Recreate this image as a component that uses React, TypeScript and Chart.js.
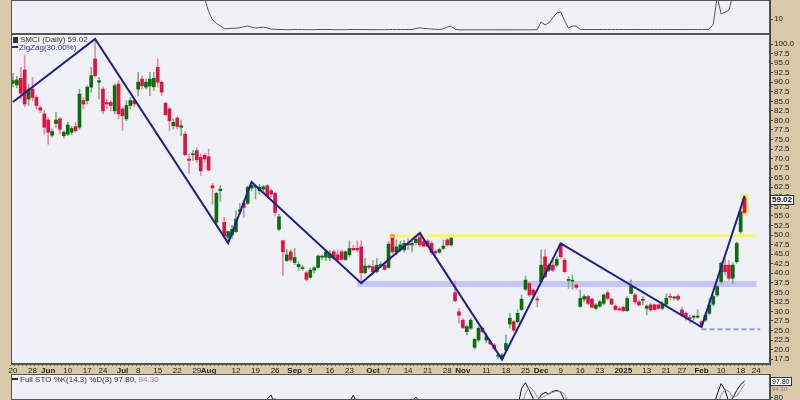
import React, { useEffect, useRef } from "react";
import { Chart, registerables } from "chart.js";

Chart.register(...registerables);

// ---------------- data ----------------
const N = 194; // trading-day slots on the date axis
const categories = Array.from({ length: N }, (_, i) => String(i));

// [slot, text, isMonth]
const dateTicks: [number, string, boolean][] = [
  [0, "20", false], [5, "28", false], [9, "Jun", true], [14, "10", false], [19, "17", false], [23, "24", false],
  [28, "Jul", true], [32, "8", false], [37, "15", false], [42, "22", false], [47, "29", false], [50, "Aug", true],
  [57, "12", false], [62, "19", false], [67, "26", false], [72, "Sep", true], [76, "9", false], [81, "16", false],
  [86, "23", false], [92, "Oct", true], [96, "7", false], [101, "14", false], [106, "21", false], [111, "28", false],
  [115, "Nov", true], [121, "11", false], [126, "18", false], [131, "25", false], [135, "Dec", true], [140, "9", false],
  [145, "16", false], [150, "23", false], [156, "2025", true], [162, "13", false], [167, "21", false], [171, "27", false],
  [176, "Feb", true], [181, "10", false], [186, "18", false], [190, "24", false],
];

// daily candles [open, high, low, close]
const candles: [number, number, number, number][] = [
  [89.7, 92.3, 88.8, 90.4], [89.3, 91.5, 88.5, 90.6], [91.0, 93.9, 85.6, 87.1], [93.2, 97.0, 83.6, 84.3],
  [85.6, 89.5, 83.9, 88.2], [88.2, 91.3, 85.2, 86.0], [86.0, 86.5, 83.0, 83.9], [83.3, 83.8, 82.0, 82.7],
  [81.7, 82.6, 76.4, 78.2], [80.1, 80.8, 73.8, 76.9], [76.1, 77.8, 75.6, 77.1], [79.2, 82.1, 78.2, 80.1],
  [80.4, 80.8, 76.4, 77.7], [76.0, 77.3, 75.4, 76.9], [76.4, 79.5, 76.0, 78.8], [76.9, 78.5, 76.2, 77.9],
  [78.4, 79.5, 76.9, 77.3], [78.2, 88.2, 77.7, 86.9], [85.2, 86.0, 83.0, 84.3], [85.2, 89.1, 84.3, 88.7],
  [88.7, 93.9, 87.4, 91.7], [96.1, 101.3, 91.3, 91.7], [90.0, 91.3, 85.6, 90.4], [88.2, 88.7, 81.7, 82.5],
  [84.7, 85.6, 83.0, 84.3], [84.7, 85.2, 82.5, 83.9], [82.5, 89.5, 81.7, 89.1], [89.5, 90.4, 80.4, 81.7],
  [83.0, 83.4, 77.3, 81.2], [80.4, 85.2, 79.9, 83.9], [83.9, 86.0, 83.0, 85.2], [85.2, 86.0, 83.5, 84.3],
  [88.2, 92.6, 86.5, 90.0], [90.8, 91.7, 88.2, 89.1], [88.7, 90.8, 88.2, 90.0], [89.0, 92.6, 86.5, 90.8],
  [88.8, 92.6, 87.8, 91.0], [93.9, 96.1, 88.7, 90.0], [90.0, 90.4, 86.5, 87.4], [84.5, 84.7, 81.2, 81.5],
  [83.0, 83.4, 77.3, 79.9], [78.6, 80.4, 77.7, 79.5], [80.6, 81.0, 77.7, 78.4], [78.2, 80.1, 76.0, 78.6],
  [76.4, 77.1, 70.8, 71.0], [69.9, 71.2, 66.1, 69.5], [71.0, 72.1, 69.5, 71.2], [72.1, 72.8, 69.0, 69.7],
  [70.3, 71.2, 65.5, 66.8], [70.9, 71.4, 69.0, 69.9], [70.5, 72.5, 66.7, 67.0], [62.9, 63.5, 58.1, 62.3],
  [53.3, 61.2, 52.9, 60.9], [61.6, 63.0, 58.8, 62.0], [53.3, 54.6, 49.2, 49.8], [49.4, 51.1, 47.9, 50.9],
  [50.0, 52.5, 49.0, 51.5], [50.9, 56.3, 50.7, 54.2], [56.2, 58.3, 55.5, 56.6], [58.3, 59.0, 54.6, 57.2],
  [58.3, 62.9, 57.9, 62.5], [62.3, 63.9, 61.5, 63.0], [62.5, 63.0, 59.4, 62.6], [61.6, 63.3, 60.7, 62.5],
  [62.0, 63.0, 61.0, 62.6], [62.9, 63.3, 59.9, 60.3], [61.6, 62.0, 59.9, 60.7], [60.9, 61.2, 55.0, 55.9],
  [51.5, 55.5, 51.1, 54.8], [48.5, 48.7, 39.3, 45.6], [43.3, 46.2, 43.0, 44.8], [45.6, 46.1, 43.0, 43.5],
  [42.8, 46.5, 42.2, 44.1], [41.7, 43.0, 40.8, 42.3], [41.2, 42.1, 40.7, 41.4], [40.1, 40.4, 38.0, 38.4],
  [38.9, 41.3, 38.7, 40.8], [40.8, 41.7, 40.0, 41.4], [41.5, 44.8, 41.3, 44.5], [44.2, 44.8, 43.5, 44.4],
  [44.2, 46.1, 43.3, 45.6], [44.0, 46.0, 43.3, 45.0], [45.6, 46.1, 43.5, 43.9], [44.8, 46.0, 43.0, 43.5],
  [45.6, 46.1, 43.3, 43.6], [43.6, 45.9, 43.3, 45.6], [44.8, 48.5, 44.3, 46.5], [46.5, 47.4, 45.9, 46.1],
  [46.5, 48.5, 45.6, 46.1], [46.9, 48.5, 37.4, 40.1], [40.1, 43.9, 39.8, 41.9], [41.6, 42.1, 41.2, 41.8],
  [41.7, 43.4, 40.0, 40.4], [40.4, 43.9, 40.0, 42.1], [42.0, 43.0, 41.5, 42.2], [42.1, 43.0, 40.8, 41.0],
  [41.5, 48.3, 41.3, 47.6], [49.6, 50.0, 45.2, 45.6], [45.6, 48.7, 44.8, 46.9], [46.1, 48.3, 45.6, 47.4],
  [46.1, 48.6, 45.5, 47.8], [47.8, 49.1, 46.1, 47.4], [47.4, 48.7, 45.6, 47.8], [48.0, 49.6, 47.4, 48.9],
  [50.0, 50.6, 46.9, 47.4], [48.3, 48.7, 46.8, 47.1], [48.4, 48.9, 46.9, 47.0], [47.8, 48.3, 44.8, 45.4],
  [45.7, 46.1, 44.8, 45.3], [45.5, 46.6, 45.2, 46.2], [46.5, 48.7, 46.2, 47.1], [48.7, 49.1, 47.0, 47.4],
  [47.4, 49.4, 47.1, 49.1], [34.9, 38.0, 32.5, 32.8], [29.9, 30.8, 26.9, 29.0], [27.7, 28.2, 25.6, 25.7],
  [24.7, 26.4, 23.8, 26.0], [25.6, 28.2, 25.3, 27.7], [20.6, 22.9, 20.1, 22.7], [22.5, 26.0, 22.1, 25.6],
  [25.6, 26.0, 24.3, 24.7], [22.5, 24.3, 21.8, 23.4], [22.1, 22.5, 21.2, 21.5], [21.2, 21.6, 19.9, 20.3],
  [18.3, 19.0, 17.7, 18.5], [17.7, 19.0, 17.3, 18.6], [19.9, 23.8, 19.7, 21.6], [26.7, 29.5, 25.6, 28.2],
  [27.3, 27.7, 24.7, 25.1], [27.3, 30.4, 27.0, 29.5], [30.5, 34.3, 30.2, 33.2], [35.8, 39.3, 35.4, 38.2],
  [37.3, 37.8, 33.9, 34.3], [35.6, 36.0, 33.9, 34.3], [33.2, 33.9, 31.2, 33.0], [37.8, 46.1, 37.5, 42.1],
  [44.3, 46.1, 38.7, 39.1], [40.8, 42.5, 40.4, 42.1], [42.1, 43.4, 40.4, 40.8], [42.1, 44.3, 41.7, 43.6],
  [47.6, 47.8, 43.9, 44.3], [43.4, 43.9, 40.0, 40.4], [38.1, 39.1, 36.0, 38.3], [37.9, 39.5, 35.8, 38.0],
  [36.9, 37.3, 35.8, 36.3], [31.3, 35.6, 31.1, 33.4], [33.2, 34.5, 32.5, 33.9], [33.9, 34.3, 31.7, 32.1],
  [33.2, 33.4, 30.8, 31.1], [30.8, 32.1, 30.4, 31.7], [31.4, 32.9, 31.0, 32.5], [32.1, 34.6, 31.7, 34.3],
  [34.9, 35.4, 33.0, 33.4], [33.2, 33.4, 31.7, 31.9], [31.4, 31.7, 30.2, 30.5], [30.7, 31.2, 30.2, 30.4],
  [31.1, 31.4, 29.9, 30.2], [30.2, 33.9, 29.9, 33.4], [34.7, 38.2, 34.6, 36.6], [34.3, 34.7, 31.9, 32.5],
  [32.5, 33.0, 31.4, 31.7], [32.9, 33.9, 31.7, 33.0], [30.8, 31.7, 29.1, 31.4], [31.7, 32.1, 30.0, 30.4],
  [31.7, 32.0, 30.3, 30.5], [31.7, 32.0, 30.5, 30.8], [30.8, 32.6, 30.4, 31.9], [31.9, 34.6, 31.7, 33.4],
  [33.9, 34.7, 33.0, 33.7], [33.5, 34.0, 33.0, 33.7], [34.0, 34.6, 32.8, 33.2], [30.4, 31.1, 28.6, 29.1],
  [29.5, 29.9, 27.7, 28.4], [28.3, 29.0, 26.9, 28.1], [28.5, 28.9, 27.7, 28.6], [28.5, 30.5, 28.2, 28.7],
  [27.3, 27.5, 25.8, 26.4], [27.7, 29.7, 27.3, 29.0], [29.5, 33.4, 29.1, 31.7], [31.9, 34.3, 31.4, 33.9],
  [34.3, 36.9, 33.9, 36.5], [37.8, 43.0, 37.3, 42.6], [42.1, 43.9, 39.5, 40.4], [42.1, 43.4, 38.2, 38.7],
  [38.7, 42.8, 37.2, 42.1], [43.0, 48.2, 42.6, 47.8], [50.9, 56.5, 50.4, 56.1], [59.7, 60.3, 55.5, 55.9],
];
const lastClose = "59.02";

// ZigZag(30%) pivots [slot, price]
const zigzagPivots: [number, number][] = [
  [0, 84.8], [21, 101.3], [55, 47.9], [61, 63.9], [89, 37.4], [104, 50.5],
  [125, 17.4], [140, 47.8], [176, 25.9], [187, 60.2],
];

// horizontal annotation lines [fromSlot, toSlot, price]
const yellowLine: [number, number, number] = [96, 190, 49.8];
const blueBand: [number, number, number] = [88, 190, 37.2];
const dashedLine: [number, number, number] = [176, 191, 25.3];

// highlight marks [slot, low, high]
const lastHighlight: [number, number, number] = [187, 55.2, 60.7];
const touchMarks: [number, number, number][] = [[97, 49.3, 50.2], [104, 49.5, 50.5]];

// upper indicator panel (values from slot 48)
const topStart = 48;
const topIndicator: number[] = [
  30, 24, 15, 9.5, 7, 5.5, 3.6, 3.6, 3.8, 3.9, 4.2, 4.8, 5.3, 4.6, 4.0, 4.3, 4.5, 4.1, 3.3, 3.1,
  3.0, 3.0, 2.9, 2.9, 3.0, 3.0, 3.0, 2.9, 2.9, 2.9, 3.0, 3.0, 3.0, 3.0, 2.9, 2.9, 2.9, 2.9, 3.0, 3.0,
  3.0, 3.0, 3.0, 2.9, 2.9, 2.9, 2.9, 2.9, 3.0, 3.0, 3.0, 3.0, 3.0, 3.0, 3.0,
  3.6, 4.2, 3.7, 3.6, 3.3, 3.1, 3.0, 3.5, 4.6, 5.3, 3.2,
  2.8, 2.8, 2.8, 2.8, 2.8, 2.8, 2.8, 2.8, 2.8, 2.8, 2.8, 2.8, 2.8, 2.8, 2.8, 2.8, 2.8, 2.8, 2.8, 2.8,
  3.0, 8.0, 6.0, 7.5, 11.0, 14.0, 14.7, 9.0, 4.0, 5.3, 5.3, 3.1,
  3.0, 3.0, 3.0, 3.0, 3.0, 3.0, 3.0, 3.0, 3.0, 3.0, 3.0, 3.0, 3.0, 3.0, 3.0, 3.0,
  3.0, 3.0, 3.0, 3.0, 3.0, 3.0, 3.0, 3.0, 3.0, 3.0, 3.0, 3.0, 3.0, 3.0, 3.0, 3.0,
  3.3, 6.5, 25, 13.4, 14.5, 16, 26, 32, 38, 42,
];

// Full STO %K / %D (only the visible upper part of the panel) [slot, value]
const stoK: [number, number][] = [
  [63, 60], [64, 72], [65, 79], [66, 83], [67, 72], [68, 55],
  [85, 62], [86, 76], [87, 83], [88, 74], [89, 45],
  [101, 70], [102, 77], [103, 81], [104, 76], [105, 68],
  [128, 55], [129, 70], [130, 90], [131, 96], [132, 88], [133, 79], [134, 77], [135, 83], [136, 86],
  [137, 84], [138, 87], [139, 88], [140, 86], [141, 77], [142, 62],
  [178, 55], [179, 70], [180, 84], [181, 95], [182, 88], [183, 76], [184, 80], [185, 88], [186, 94], [187, 97.8],
];
const stoD: [number, number][] = [
  [64, 62], [65, 70], [66, 78], [67, 80], [68, 73], [69, 60],
  [86, 68], [87, 76], [88, 79], [89, 70], [90, 55],
  [102, 70], [103, 76], [104, 78], [105, 74], [106, 66],
  [129, 58], [130, 72], [131, 85], [132, 92], [133, 88], [134, 81], [135, 80], [136, 82], [137, 85],
  [138, 86], [139, 87], [140, 87], [141, 84], [142, 75], [143, 62],
  [179, 60], [180, 70], [181, 83], [182, 89], [183, 87], [184, 81], [185, 82], [186, 88], [187, 94.3],
];

const priceTicks = Array.from({ length: 34 }, (_, k) => 17.5 + 2.5 * k);

// ---------------- styling ----------------
const FONT = "'Liberation Sans', Arial, sans-serif";
const TAN = "#d9c9a9";
const PLOT_BG = "#f0f0f7";
const UP = "#0d6b0d";
const DOWN = "#dc1443";
const UP_WICK = "#7fb07f";
const DOWN_WICK = "#e98ca2";

function sparse(points: [number, number][]) {
  const a: (number | null)[] = new Array(N).fill(null);
  points.forEach(([i, v]) => (a[i] = v));
  return a;
}
function hline(l: [number, number, number]) {
  return sparse([[l[0], l[2]], [l[1], l[2]]]);
}

const panelPlugin = {
  id: "panelBg",
  beforeDraw(chart: any) {
    const { ctx, chartArea: a } = chart;
    ctx.save();
    ctx.fillStyle = PLOT_BG;
    ctx.fillRect(a.left, a.top, a.right - a.left, a.bottom - a.top);
    ctx.restore();
  },
  afterDraw(chart: any) {
    const { ctx, chartArea: a } = chart;
    ctx.save();
    ctx.strokeStyle = "#555";
    ctx.lineWidth = 1;
    ctx.strokeRect(a.left + 0.5, a.top + 0.5, a.right - a.left - 1, a.bottom - a.top - 1);
    ctx.restore();
  },
};

const tickText: Record<number, string> = {};
const monthSet = new Set<number>();
dateTicks.forEach(([i, t, m]) => {
  tickText[i] = t;
  if (m) monthSet.add(i);
});

function rightAxis(min: number, max: number, values: number[], fmt: (v: number) => string) {
  return {
    position: "right",
    min,
    max,
    afterFit: (s: any) => {
      s.width = 30;
      s.paddingTop = 0;
      s.paddingBottom = 0;
    },
    afterBuildTicks: (s: any) => {
      s.ticks = values.map((v) => ({ value: v }));
    },
    ticks: {
      autoSkip: false,
      callback: (v: any) => fmt(Number(v)),
      font: { family: FONT, size: 8 },
      color: "#222",
      padding: 1,
    },
    grid: { drawOnChartArea: false, drawTicks: true, tickLength: 3, color: "#444" },
    border: { display: true, color: "#444" },
  };
}

function hiddenX() {
  return { type: "category", offset: true, display: false };
}

export default function App() {
  const topRef = useRef<HTMLCanvasElement>(null);
  const mainRef = useRef<HTMLCanvasElement>(null);
  const botRef = useRef<HTMLCanvasElement>(null);

  useEffect(() => {
    const base = {
      responsive: false,
      animation: false,
      devicePixelRatio: 1,
      plugins: { legend: { display: false }, tooltip: { enabled: false } },
    };

    // ---- main price panel
    const wicks = candles.map(([o, h, l, c]) => [l, h]);
    const bodies = candles.map(([o, h, l, c]) => [Math.min(o, c), Math.max(o, c)]);
    const up = candles.map(([o, h, l, c]) => c >= o);
    const highlightData: any[] = new Array(N).fill(null);
    highlightData[lastHighlight[0]] = [lastHighlight[1], lastHighlight[2]];
    const touchData: any[] = new Array(N).fill(null);
    touchMarks.forEach(([i, lo, hi]) => (touchData[i] = [lo, hi]));

    const main = new Chart(mainRef.current!, {
      type: "bar",
      data: {
        labels: categories,
        datasets: [
          {
            type: "line",
            data: hline(blueBand),
            borderColor: "#c5c5f5",
            borderWidth: 6,
            borderCapStyle: "butt",
            pointRadius: 0,
            spanGaps: true,
            order: 10,
          } as any,
          {
            type: "line",
            data: hline(yellowLine),
            borderColor: "#f7f57c",
            borderWidth: 3,
            borderCapStyle: "butt",
            pointRadius: 0,
            spanGaps: true,
            order: 9,
          },
          {
            type: "line",
            data: hline(dashedLine),
            borderColor: "#9a9af2",
            borderWidth: 2,
            borderDash: [5, 3],
            borderCapStyle: "butt",
            pointRadius: 0,
            spanGaps: true,
            order: 8,
          },
          {
            type: "bar",
            data: highlightData,
            backgroundColor: "#f6ef5e",
            barThickness: 7,
            grouped: false,
            order: 7,
          },
          {
            type: "bar",
            data: touchData,
            backgroundColor: "#f0a448",
            barThickness: 4,
            grouped: false,
            order: 3,
          },
          {
            type: "bar",
            data: wicks,
            backgroundColor: up.map((u) => (u ? UP_WICK : DOWN_WICK)),
            barThickness: 1,
            grouped: false,
            order: 5,
          },
          {
            type: "bar",
            data: bodies,
            backgroundColor: up.map((u) => (u ? UP : DOWN)),
            barThickness: 3,
            minBarLength: 1,
            grouped: false,
            order: 4,
          },
          {
            type: "line",
            data: sparse(zigzagPivots),
            borderColor: "#1e1e8e",
            borderWidth: 2,
            pointRadius: 0,
            spanGaps: true,
            order: 1,
          },
        ],
      } as any,
      options: {
        ...base,
        layout: { padding: { left: 11, top: 0, right: 0, bottom: 0 } },
        scales: {
          x: {
            type: "category",
            offset: true,
            afterFit: (s: any) => {
              s.height = 10;
              s.paddingLeft = 0;
              s.paddingRight = 0;
            },
            ticks: {
              autoSkip: false,
              maxRotation: 0,
              padding: 0,
              color: "#222",
              callback: (_v: any, i: number) => tickText[i] ?? "",
              font: (ctx: any) => ({ family: FONT, size: 8, weight: monthSet.has(ctx.index) ? "bold" : "normal" }),
            },
            grid: { drawOnChartArea: false, drawTicks: true, tickLength: 2, color: "#777" },
            border: { display: true, color: "#555" },
          },
          y: rightAxis(16.23, 102.62, priceTicks, (v) => v.toFixed(1)),
        },
      } as any,
      plugins: [panelPlugin],
    });

    // ---- top indicator panel
    const topData: (number | null)[] = new Array(N).fill(null);
    topIndicator.forEach((v, k) => (topData[topStart + k] = v));
    const top = new Chart(topRef.current!, {
      type: "line",
      data: {
        labels: categories,
        datasets: [{ data: topData, borderColor: "#555", borderWidth: 1, pointRadius: 0 }],
      },
      options: {
        ...base,
        layout: { padding: { left: 11, top: 0, right: 0, bottom: 0 } },
        scales: { x: hiddenX(), y: rightAxis(0, 22.7, [10], (v) => String(v)) },
      } as any,
      plugins: [panelPlugin],
    });

    // ---- bottom stochastic panel
    const bot = new Chart(botRef.current!, {
      type: "line",
      data: {
        labels: categories,
        datasets: [
          { data: sparse(stoD), borderColor: "#9a8f8f", borderWidth: 1, pointRadius: 0 },
          { data: sparse(stoK), borderColor: "#111", borderWidth: 1, pointRadius: 0 },
        ],
      },
      options: {
        ...base,
        layout: { padding: { left: 11, top: 0, right: 0, bottom: 0 } },
        scales: { x: hiddenX(), y: rightAxis(77.9, 105.1, [80], (v) => String(v)) },
      } as any,
      plugins: [panelPlugin],
    });

    return () => {
      main.destroy();
      top.destroy();
      bot.destroy();
    };
  }, []);

  const txt: React.CSSProperties = {
    position: "absolute",
    fontFamily: FONT,
    fontSize: 8,
    lineHeight: "9px",
    whiteSpace: "nowrap",
  };

  return (
    <div style={{ position: "absolute", left: 0, top: 0, width: 800, height: 400, background: TAN, overflow: "hidden" }}>
      <canvas ref={topRef} width={800} height={34} style={{ position: "absolute", left: 0, top: 0 }} />
      <canvas ref={mainRef} width={800} height={340} style={{ position: "absolute", left: 0, top: 34 }} />
      <canvas ref={botRef} width={800} height={26} style={{ position: "absolute", left: 0, top: 374 }} />

      <div style={{ ...txt, left: 13, top: 35, color: "#333" }}>
        <span style={{ display: "inline-block", width: 5, height: 6, background: "#333", marginRight: 2, verticalAlign: "-1px" }} />
        SMCI (Daily) {lastClose}
      </div>
      <div style={{ ...txt, left: 12, top: 43, color: "#2a2aa8" }}>
        <span style={{ display: "inline-block", width: 6, height: 2, background: "#2a2aa8", marginRight: 1, verticalAlign: "2px" }} />
        ZigZag(30.00%)
      </div>
      <div
        style={{
          ...txt,
          left: 770,
          top: 195,
          background: "#fff",
          border: "1px solid #333",
          padding: "0 1px",
          lineHeight: "8px",
          fontWeight: "bold",
          color: "#111",
        }}
      >
        {lastClose}
      </div>

      <div style={{ ...txt, left: 12, top: 375, color: "#333" }}>
        <span style={{ display: "inline-block", width: 6, height: 2, background: "#333", marginRight: 2, verticalAlign: "2px" }} />
        Full STO %K(14,3) %D(3) 97.80, <span style={{ color: "#998888" }}>94.30</span>
      </div>
      <div
        style={{
          ...txt,
          left: 770,
          top: 377,
          background: "#fff",
          border: "1px solid #333",
          padding: "0 1px",
          lineHeight: "7px",
          fontSize: 7,
          color: "#111",
        }}
      >
        97.80
      </div>
      <div style={{ ...txt, left: 772, top: 386, fontSize: 6, lineHeight: "6px", color: "#887777" }}>94.30</div>
    </div>
  );
}
